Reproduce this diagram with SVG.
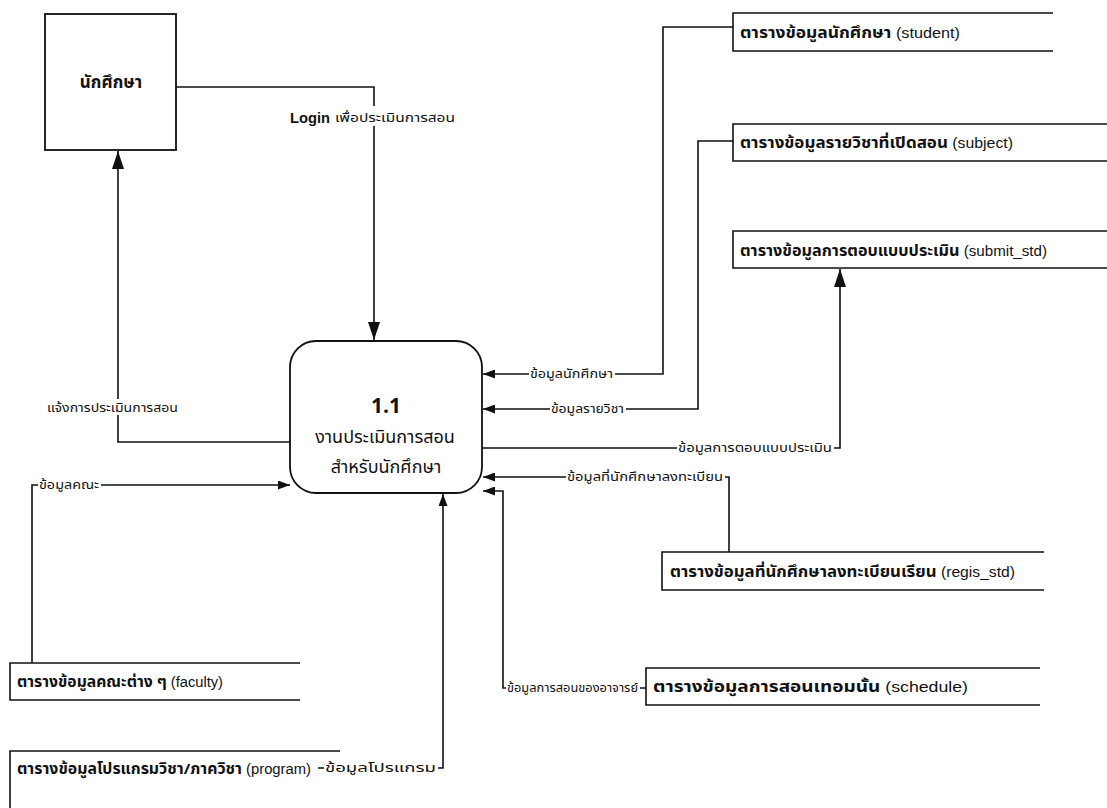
<svg xmlns="http://www.w3.org/2000/svg" width="1107" height="808" viewBox="0 0 1107 808">
  <defs>
    <style>
      .ln { fill: none; stroke: #111; stroke-width: 1.6; }
      .box { fill: #fff; stroke: #111; stroke-width: 1.8; }
      .store { fill: none; stroke: #111; stroke-width: 1.6; }
      .st { font-family: "Noto Sans Thai", "Loma", "Tahoma", "Liberation Sans", sans-serif; font-size: 15px; font-weight: bold; fill: #111; }
      .st .en { font-family: "Liberation Sans", Arial, sans-serif; font-weight: normal; font-size: 14px; }
      .lb { font-family: "Noto Sans Thai", "Loma", "Tahoma", "Liberation Sans", sans-serif; font-size: 12px; fill: #111; }
      .bg { fill: #fff; }
      .pt { font-family: "Noto Sans Thai", "Loma", "Tahoma", "Liberation Sans", sans-serif; fill: #111; text-anchor: middle; }
    </style>
    <marker id="ah" viewBox="0 0 18 12" refX="18" refY="6" markerWidth="18" markerHeight="12" markerUnits="userSpaceOnUse" orient="auto">
      <path d="M0,0 L18,6 L0,12 Z" fill="#111"/>
    </marker>
    <marker id="ahs" viewBox="0 0 12 9" refX="12" refY="4.5" markerWidth="12" markerHeight="9" markerUnits="userSpaceOnUse" orient="auto">
      <path d="M0,0 L12,4.5 L0,9 Z" fill="#111"/>
    </marker>
  </defs>

  <rect width="1107" height="808" fill="#fff"/>

  <!-- connectors -->
  <g id="connectors">
    <path class="ln" d="M176,87 H374 V340" marker-end="url(#ah)"/>
    <path class="ln" d="M290,442 H118 V151" marker-end="url(#ah)"/>
    <path class="ln" d="M32,663 V485 H290" marker-end="url(#ahs)"/>
    <path class="ln" d="M733,27 H663 V374 H483" marker-end="url(#ahs)"/>
    <path class="ln" d="M733,141 H698 V409 H483" marker-end="url(#ahs)"/>
    <path class="ln" d="M482,448 H840 V269" marker-end="url(#ah)"/>
    <path class="ln" d="M729,552 V477 H483" marker-end="url(#ahs)"/>
    <path class="ln" d="M646,688 H503 V491 H483" marker-end="url(#ahs)"/>
    <path class="ln" d="M318,768 H443 V494" marker-end="url(#ahs)"/>

    <!-- flow labels -->
    <rect class="bg" x="288" y="106" width="170" height="20"/>
    <text x="290" y="123" font-family="Liberation Sans, Arial, sans-serif" font-size="15" font-weight="bold" fill="#111" textLength="40" lengthAdjust="spacingAndGlyphs">Login</text>
    <text class="lb" x="335" y="122" textLength="120" lengthAdjust="spacingAndGlyphs">เพื่อประเมินการสอน</text>

    <rect class="bg" x="45" y="399" width="135" height="16"/>
    <text class="lb" x="47" y="412" textLength="131" lengthAdjust="spacingAndGlyphs">แจ้งการประเมินการสอน</text>

    <rect class="bg" x="38" y="478" width="63" height="15"/>
    <text class="lb" x="39" y="489" textLength="60" lengthAdjust="spacingAndGlyphs">ข้อมูลคณะ</text>

    <rect class="bg" x="529" y="367" width="86" height="15"/>
    <text class="lb" x="530" y="378" textLength="83" lengthAdjust="spacingAndGlyphs">ข้อมูลนักศึกษา</text>

    <rect class="bg" x="550" y="402" width="76" height="15"/>
    <text class="lb" x="551" y="413" textLength="73" lengthAdjust="spacingAndGlyphs">ข้อมูลรายวิชา</text>

    <rect class="bg" x="677" y="441" width="157" height="15"/>
    <text class="lb" x="678" y="452" textLength="154" lengthAdjust="spacingAndGlyphs">ข้อมูลการตอบแบบประเมิน</text>

    <rect class="bg" x="566" y="470" width="159" height="15"/>
    <text class="lb" x="567" y="481" textLength="156" lengthAdjust="spacingAndGlyphs">ข้อมูลที่นักศึกษาลงทะเบียน</text>

    <rect class="bg" x="506" y="681" width="134" height="15"/>
    <text class="lb" x="507" y="692" textLength="131" lengthAdjust="spacingAndGlyphs">ข้อมูลการสอนของอาจารย์</text>

    <rect class="bg" x="324" y="761" width="114" height="15"/>
    <text class="lb" x="325" y="772" textLength="111" lengthAdjust="spacingAndGlyphs">ข้อมูลโปรแกรม</text>
  </g>

  <!-- external entity -->
  <g id="entity-student">
    <rect class="box" x="45" y="14" width="131" height="136"/>
    <text class="pt" x="111" y="88" font-size="17" font-weight="bold">นักศึกษา</text>
  </g>

  <!-- process -->
  <g id="process-1-1">
    <rect class="box" x="290" y="341" width="192" height="152" rx="26" ry="26"/>
    <text class="pt" x="386" y="413" font-size="21" font-weight="bold" font-family="Liberation Sans, Arial, sans-serif">1.1</text>
    <text class="pt" x="385" y="443" font-size="18">งานประเมินการสอน</text>
    <text class="pt" x="386" y="473" font-size="18">สำหรับนักศึกษา</text>
  </g>

  <!-- data stores -->
  <g id="store-student">
    <path class="store" d="M1053,13 H733 V51 H1053"/>
    <text class="st" x="740" y="38" textLength="220" lengthAdjust="spacingAndGlyphs">ตารางข้อมูลนักศึกษา <tspan class="en">(student)</tspan></text>
  </g>
  <g id="store-subject">
    <path class="store" d="M1107,124 H733 V161 H1107"/>
    <text class="st" x="740" y="148" textLength="273" lengthAdjust="spacingAndGlyphs">ตารางข้อมูลรายวิชาที่เปิดสอน <tspan class="en">(subject)</tspan></text>
  </g>
  <g id="store-submit-std">
    <path class="store" d="M1107,231 H733 V268 H1107"/>
    <text class="st" x="740" y="256" textLength="307" lengthAdjust="spacingAndGlyphs">ตารางข้อมูลการตอบแบบประเมิน <tspan class="en">(submit_std)</tspan></text>
  </g>
  <g id="store-regis-std">
    <path class="store" d="M1044,552 H662 V590 H1044"/>
    <text class="st" x="670" y="577" textLength="345" lengthAdjust="spacingAndGlyphs">ตารางข้อมูลที่นักศึกษาลงทะเบียนเรียน <tspan class="en">(regis_std)</tspan></text>
  </g>
  <g id="store-schedule">
    <path class="store" d="M1040,668 H646 V705 H1040"/>
    <text class="st" x="653" y="692" textLength="315" lengthAdjust="spacingAndGlyphs">ตารางข้อมูลการสอนเทอมนั้น <tspan class="en">(schedule)</tspan></text>
  </g>
  <g id="store-faculty">
    <path class="store" d="M300,663 H10 V700 H300"/>
    <text class="st" x="17" y="687" textLength="206" lengthAdjust="spacingAndGlyphs">ตารางข้อมูลคณะต่าง ๆ <tspan class="en">(faculty)</tspan></text>
  </g>
  <g id="store-program">
    <path class="store" d="M340,751 H10 V808"/>
    <text class="st" x="17" y="774" textLength="294" lengthAdjust="spacingAndGlyphs">ตารางข้อมูลโปรแกรมวิชา/ภาควิชา <tspan class="en">(program)</tspan></text>
  </g>
</svg>
